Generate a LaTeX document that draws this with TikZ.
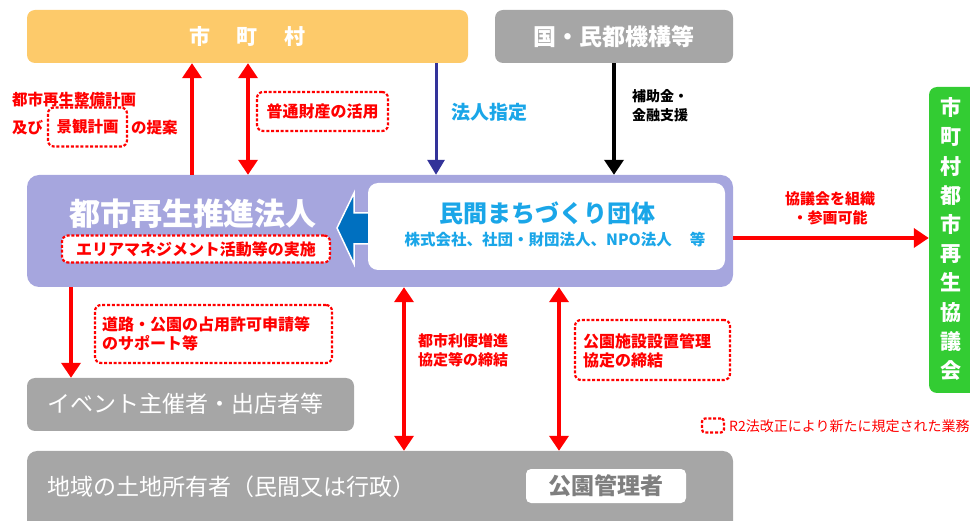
\documentclass[tikz,border=0pt]{standalone}
\usepackage{fontspec}
\setmainfont{Noto Sans CJK JP}
\usetikzlibrary{arrows.meta}
\definecolor{cityorange}{HTML}{FDCA6A}
\definecolor{boxgray}{HTML}{A6A6A6}
\definecolor{orgpurple}{HTML}{A6A6DE}
\definecolor{skyblue}{HTML}{1AA6E8}
\definecolor{blockblue}{HTML}{0070C0}
\definecolor{navyarrow}{HTML}{333399}
\definecolor{councilgreen}{HTML}{33CC33}
\definecolor{labelred}{HTML}{FF0000}
\definecolor{darkgraytext}{HTML}{7F7F7F}
\begin{document}
\begin{tikzpicture}[x=1pt,y=-1pt,
  fbox/.style={rounded corners=8pt, inner sep=0pt, draw=none},
  wtitle/.style={text=white, inner sep=0pt},
  redlbl/.style={text=labelred, inner sep=0pt, font=\fontsize{15.5}{18}\selectfont\bfseries},
  dbox/.style={draw=labelred, line width=2.2pt, dash pattern=on 3pt off 1.8pt,
     rounded corners=6pt, inner sep=0pt},
  redarr/.style={draw=labelred, line width=4pt, -{Triangle[width=19pt,length=15pt]}},
  redboth/.style={draw=labelred, line width=4pt, {Triangle[width=19pt,length=15pt]}-{Triangle[width=19pt,length=15pt]}},
]
\useasboundingbox (0,0) rectangle (970,521);

% boxes
\node[fbox, fill=cityorange, minimum width=441, minimum height=53] (city) at (247.5,36.5) {};
\node[wtitle, font=\fontsize{21}{25}\selectfont\bfseries] at (city.center) {市\hspace{27pt}町\hspace{27pt}村};
\node[fbox, fill=boxgray, minimum width=238, minimum height=53] (nat) at (614,36.5) {};
\node[wtitle, font=\fontsize{23}{27}\selectfont\bfseries] at (nat.center) {国・民都機構等};

\node[fbox, fill=orgpurple, minimum width=706, minimum height=112, rounded corners=12pt] (corp) at (380,231) {};
\node[wtitle, font=\fontsize{31}{36}\selectfont\bfseries] (corpt) at (193,214) {都市再生推進法人};
\node[dbox, fill=white, minimum width=268, minimum height=27] (area) at (196,249) {};
\node[redlbl, font=\fontsize{16}{19}\selectfont\bfseries] at (area.center) {エリアマネジメント活動等の実施};

% blue block arrow
\draw[fill=blockblue, draw=white, line width=1.5pt] (337,228) -- (354,193) -- (354,213) -- (372,213) -- (372,244) -- (354,244) -- (354,264) -- cycle;

\node[fbox, fill=white, minimum width=357, minimum height=87, rounded corners=10pt] (priv) at (546.5,226.5) {};
\node[inner sep=0pt, text=skyblue, font=\fontsize{24}{28}\selectfont\bfseries] at (547,213) {民間まちづくり団体};
\node[inner sep=0pt, text=skyblue, font=\fontsize{15.5}{18}\selectfont\bfseries] at (555,240) {株式会社、社団・財団法人、NPO法人\hspace{18pt}等};

\node[fbox, fill=councilgreen, minimum width=60, minimum height=306] (council) at (959,240) {};
\node[wtitle, align=center, font=\fontsize{21}{29.2}\selectfont\bfseries] at (951,239) {市\\町\\村\\都\\市\\再\\生\\協\\議\\会};

\node[fbox, fill=boxgray, minimum width=327, minimum height=53] (event) at (190.5,404.5) {};
\node[wtitle, anchor=west, font=\fontsize{23}{27}\selectfont] at (47,404) {イベント主催者・出店者等};

\node[fbox, fill=boxgray, minimum width=706, minimum height=90, rounded corners=10pt] (land) at (380,496) {};
\node[wtitle, anchor=west, font=\fontsize{23}{27}\selectfont] at (47,487) {地域の土地所有者（民間又は行政）};
\node[fbox, fill=white, minimum width=160, minimum height=34, rounded corners=5pt] (park) at (606,486) {};
\node[inner sep=0pt, text=darkgraytext, font=\fontsize{23}{27}\selectfont\bfseries] at (park.center) {公園管理者};

% arrow x positions
\coordinate (xa) at (192,0);
\coordinate (xb) at (248,0);
\coordinate (xc) at (436,0);
\coordinate (xd) at (614,0);
\coordinate (xe) at (71,0);
\coordinate (xf) at (404,0);
\coordinate (xg) at (559,0);
\coordinate (ya) at (0,238);

\draw[redarr] (xa |- corp.north) -- (xa |- city.south);
\draw[redboth] (xb |- city.south) -- (xb |- corp.north);
\draw[draw=navyarrow, line width=3pt, -{Triangle[width=17pt,length=15pt]}] (xc |- city.south) -- (xc |- corp.north);
\draw[draw=black, line width=4pt, -{Triangle[width=19pt,length=15pt]}] (xd |- nat.south) -- (xd |- corp.north);
\draw[redarr] (corp.east |- ya) -- (council.west |- ya);
\draw[redarr] (xe |- corp.south) -- (xe |- event.north);
\draw[redboth] (xf |- corp.south) -- (xf |- land.north);
\draw[redboth] (xg |- corp.south) -- (xg |- land.north);

% labels
\node[redlbl, anchor=west] (l1) at (12,100) {都市再生整備計画};
\node[redlbl, anchor=west] (l2a) at (12,128) {及び};
\node[dbox, minimum width=79, minimum height=39] (kb) at (87.5,127) {};
\node[redlbl] at (kb.center) {景観計画};
\node[redlbl, anchor=west] at (131,128) {の提案};

\node[dbox, minimum width=131, minimum height=39] (fut) at (322.5,111.5) {};
\node[redlbl, font=\fontsize{16}{19}\selectfont\bfseries] at (fut.center) {普通財産の活用};

\node[inner sep=0pt, anchor=west, text=skyblue, font=\fontsize{19}{22}\selectfont\bfseries] at (451,112) {法人指定};
\node[inner sep=0pt, anchor=north west, align=left, font=\fontsize{14}{19}\selectfont\bfseries] at (632,89) {補助金・\\金融支援};

\node[redlbl, align=center, font=\fontsize{15}{19}\selectfont\bfseries] at (830,208) {協議会を組織\\・参画可能};

\node[dbox, minimum width=237, minimum height=58] (road) at (213.5,334) {};
\node[redlbl, anchor=west, align=left, font=\fontsize{16}{19}\selectfont\bfseries] at (102,334) {道路・公園の占用許可申請等\\のサポート等};

\node[redlbl, anchor=west, align=left, font=\fontsize{15}{19}\selectfont\bfseries] at (418,350) {都市利便増進\\協定等の締結};

\node[dbox, minimum width=155, minimum height=60] (pk) at (652.5,350) {};
\node[redlbl, anchor=west, align=left, font=\fontsize{16}{19}\selectfont\bfseries] at (583,351) {公園施設設置管理\\協定の締結};

\node[dbox, minimum width=22, minimum height=14, rounded corners=3pt] (leg) at (713,425.5) {};
\node[inner sep=0pt, anchor=west, text=labelred, font=\fontsize{14}{17}\selectfont] at (729,426) {R2法改正により新たに規定された業務};
\end{tikzpicture}
\end{document}
